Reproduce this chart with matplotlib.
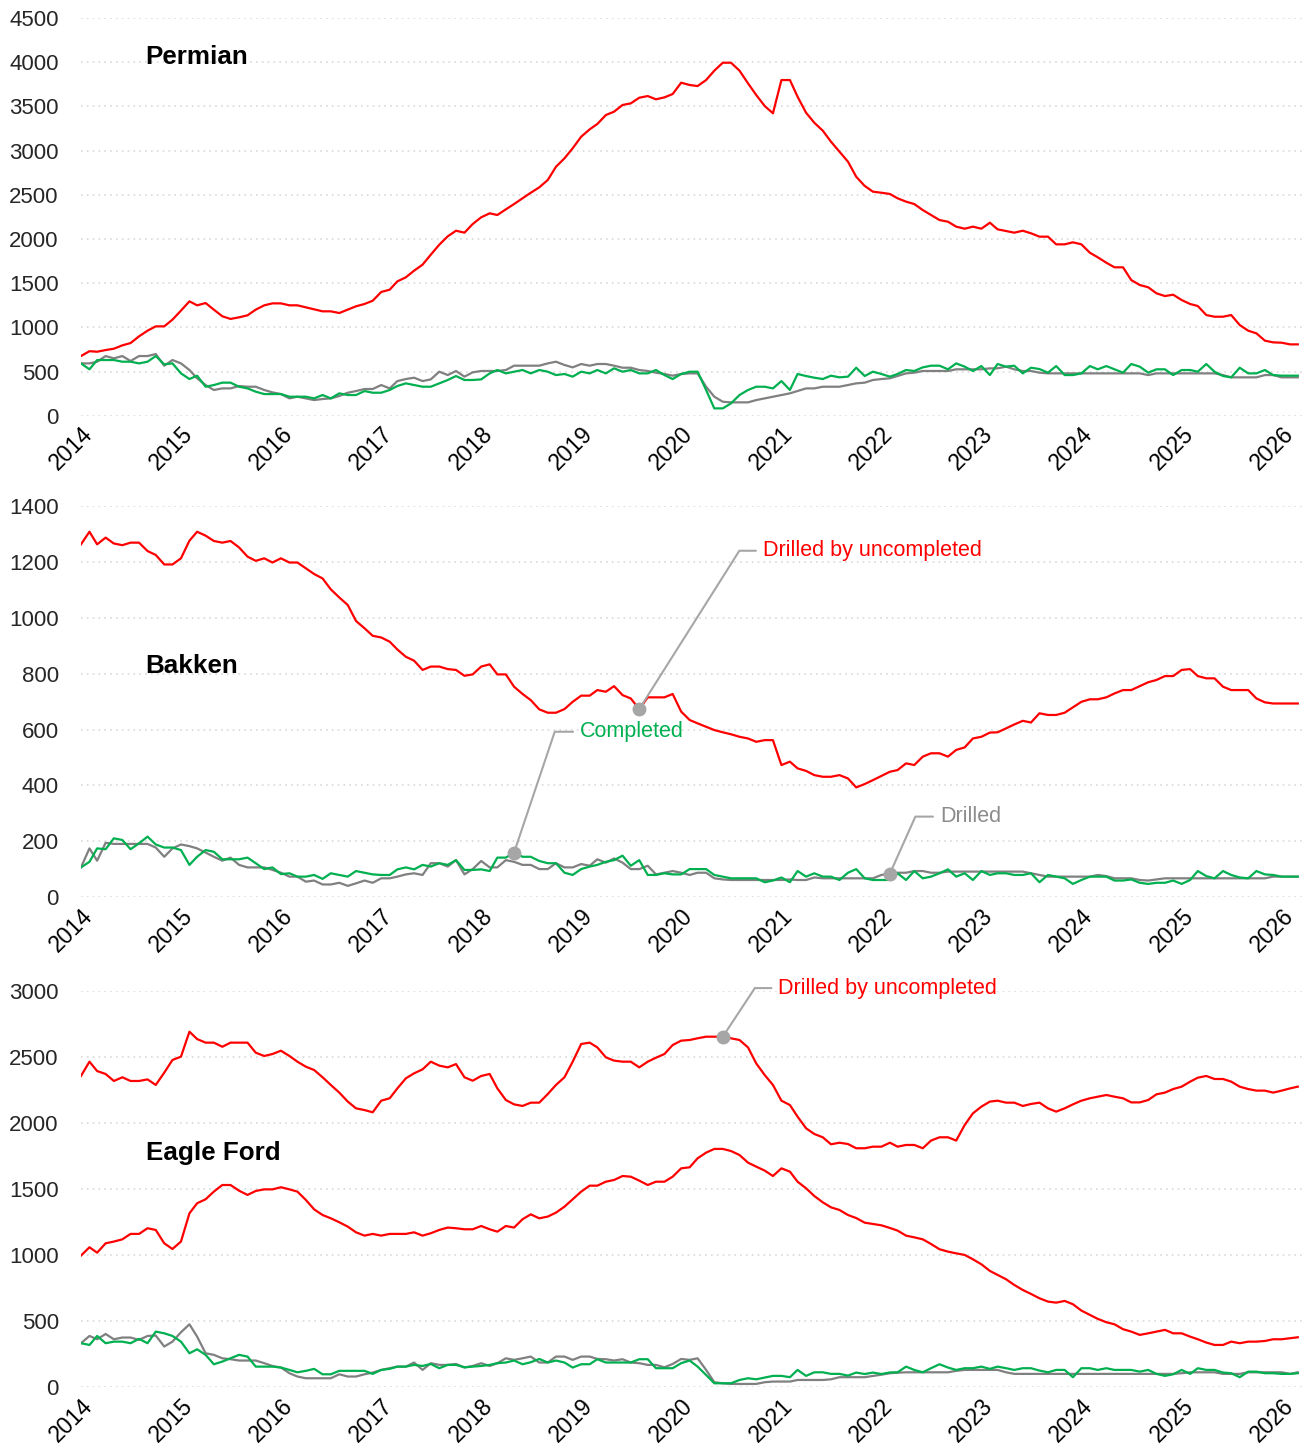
import numpy as np
import pandas as pd
import matplotlib
matplotlib.use("Agg")
import matplotlib.pyplot as plt
import matplotlib.dates as mdates

plt.rcParams['font.family'] = ['Liberation Sans', 'DejaVu Sans']

# monthly, Jan 2014 .. Mar 2026
dates = pd.date_range("2014-01-01", periods=147, freq="MS")

permian_duc = [
    675, 730, 724, 743, 758, 796, 822, 898, 962, 1011, 1011, 1087,
    1189, 1294, 1249, 1275, 1200, 1125, 1095, 1113, 1136, 1200, 1249, 1271,
    1271, 1249, 1249, 1226, 1204, 1181, 1181, 1162, 1200, 1238, 1264, 1301,
    1400, 1426, 1520, 1566, 1641, 1709, 1822, 1935, 2030, 2093, 2071, 2169,
    2245, 2290, 2271, 2335, 2395, 2460, 2523, 2584, 2667, 2817, 2912, 3026,
    3157, 3240, 3301, 3402, 3440, 3516, 3534, 3598, 3617, 3580, 3602, 3640,
    3768, 3742, 3730, 3798, 3904, 3994, 3994, 3904, 3761, 3629, 3504, 3422,
    3798, 3798, 3609, 3428, 3315, 3225, 3100, 2987, 2874, 2704, 2600, 2535,
    2523, 2509, 2460, 2422, 2395, 2327, 2271, 2214, 2195, 2139, 2116, 2139,
    2116, 2184, 2109, 2090, 2071, 2093, 2064, 2026, 2026, 1939, 1939, 1962,
    1939, 1844, 1792, 1731, 1679, 1679, 1535, 1479, 1453, 1385, 1354, 1369,
    1309, 1264, 1241, 1139, 1120, 1120, 1139, 1026, 962, 932, 849, 830,
    826, 807, 807]
permian_completed = [
    592, 525, 630, 630, 630, 611, 611, 592, 611, 675, 581, 592,
    479, 415, 453, 328, 347, 374, 374, 328, 309, 272, 245, 245,
    245, 215, 215, 215, 196, 234, 196, 253, 234, 234, 279, 260,
    260, 291, 336, 366, 347, 328, 328, 366, 404, 449, 404, 404,
    411, 479, 517, 479, 498, 517, 479, 517, 498, 460, 472, 442,
    498, 479, 517, 479, 536, 498, 517, 479, 479, 517, 460, 415,
    472, 498, 498, 291, 83, 83, 140, 234, 291, 328, 328, 309,
    392, 291, 472, 449, 430, 415, 453, 434, 442, 543, 449, 498,
    472, 442, 472, 517, 506, 547, 566, 566, 525, 592, 555, 506,
    562, 460, 585, 555, 566, 479, 543, 528, 487, 562, 460, 460,
    479, 562, 525, 562, 525, 487, 585, 555, 487, 525, 525, 460,
    517, 517, 498, 585, 498, 449, 434, 543, 479, 479, 517, 460,
    453, 453, 453]
permian_drilled = [
    592, 592, 611, 675, 649, 675, 619, 675, 675, 698, 566, 630,
    592, 517, 423, 347, 291, 309, 309, 336, 328, 328, 291, 264,
    245, 196, 215, 196, 177, 189, 196, 223, 260, 279, 302, 302,
    347, 309, 392, 415, 430, 392, 411, 498, 460, 506, 442, 491,
    506, 506, 506, 517, 566, 566, 566, 566, 592, 611, 574, 547,
    585, 566, 585, 585, 566, 543, 543, 517, 506, 487, 472, 453,
    472, 479, 479, 328, 215, 158, 151, 151, 151, 177, 196, 215,
    234, 253, 279, 309, 309, 328, 328, 328, 347, 366, 374, 404,
    415, 423, 449, 479, 487, 506, 506, 506, 506, 525, 525, 525,
    525, 536, 536, 555, 525, 506, 506, 487, 479, 479, 479, 479,
    479, 479, 479, 479, 479, 479, 479, 479, 460, 479, 479, 479,
    479, 479, 479, 479, 479, 460, 434, 434, 434, 434, 460, 460,
    434, 434, 434]

bakken_duc = [
    1262, 1307, 1262, 1286, 1265, 1259, 1268, 1268, 1238, 1224, 1190, 1190,
    1212, 1275, 1307, 1293, 1274, 1268, 1274, 1251, 1218, 1203, 1212, 1197,
    1212, 1197, 1197, 1176, 1156, 1140, 1101, 1072, 1045, 988, 962, 935,
    929, 914, 886, 860, 846, 813, 825, 825, 816, 813, 792, 797,
    825, 833, 797, 797, 753, 727, 705, 672, 660, 660, 673, 699,
    721, 721, 741, 735, 755, 723, 711, 673, 715, 715, 715, 727,
    664, 634, 622, 610, 598, 590, 583, 574, 568, 556, 562, 562,
    473, 485, 461, 452, 437, 431, 431, 437, 425, 393, 405, 419,
    434, 449, 455, 479, 473, 503, 515, 515, 503, 527, 536, 568,
    574, 589, 590, 604, 618, 631, 625, 658, 652, 652, 660, 679,
    699, 708, 708, 715, 729, 741, 741, 755, 769, 777, 791, 791,
    813, 816, 791, 783, 783, 753, 741, 741, 741, 711, 697, 693,
    693, 693, 693]
bakken_completed = [
    107, 127, 175, 172, 211, 205, 172, 193, 217, 189, 178, 178,
    169, 116, 145, 169, 163, 136, 136, 136, 142, 122, 101, 107,
    83, 86, 74, 74, 80, 66, 86, 80, 74, 94, 88, 82,
    80, 80, 100, 107, 100, 116, 110, 122, 116, 133, 98, 98,
    100, 94, 142, 142, 160, 145, 145, 130, 122, 122, 88, 80,
    101, 110, 116, 127, 133, 149, 113, 133, 80, 80, 86, 82,
    82, 101, 101, 101, 80, 74, 68, 68, 68, 68, 54, 60,
    71, 54, 94, 74, 86, 74, 74, 62, 88, 101, 68, 62,
    62, 62, 86, 62, 94, 68, 74, 86, 100, 74, 86, 62,
    94, 80, 86, 86, 80, 80, 86, 54, 80, 74, 68, 48,
    62, 74, 74, 74, 60, 60, 64, 52, 48, 52, 52, 60,
    48, 62, 94, 76, 68, 94, 80, 71, 68, 94, 82, 80,
    74, 74, 74]
bakken_drilled = [
    107, 175, 131, 195, 191, 191, 191, 191, 191, 178, 145, 175,
    189, 183, 175, 160, 145, 131, 142, 116, 107, 107, 107, 98,
    88, 74, 74, 56, 60, 46, 46, 52, 41, 50, 60, 52,
    68, 68, 74, 82, 86, 80, 122, 122, 110, 133, 82, 101,
    130, 107, 107, 133, 127, 116, 116, 101, 101, 122, 107, 107,
    119, 113, 136, 124, 139, 124, 101, 101, 113, 82, 88, 94,
    88, 80, 88, 88, 68, 64, 62, 62, 62, 62, 62, 62,
    62, 64, 62, 62, 71, 68, 68, 68, 68, 68, 68, 68,
    80, 85, 88, 88, 94, 94, 88, 88, 92, 92, 92, 92,
    92, 92, 92, 92, 92, 92, 86, 80, 74, 74, 74, 74,
    74, 74, 80, 76, 68, 68, 68, 62, 60, 64, 68, 68,
    68, 68, 68, 68, 68, 68, 68, 68, 68, 68, 68, 74,
    74, 74, 74]

eagle_duc_a = [
    2355, 2463, 2392, 2370, 2317, 2345, 2317, 2317, 2329, 2287, 2380, 2476,
    2501, 2690, 2634, 2607, 2607, 2576, 2607, 2607, 2607, 2531, 2506, 2521,
    2546, 2506, 2463, 2425, 2400, 2345, 2287, 2229, 2161, 2110, 2097, 2080,
    2168, 2186, 2261, 2337, 2375, 2405, 2463, 2433, 2420, 2445, 2345, 2319,
    2355, 2370, 2261, 2173, 2140, 2128, 2153, 2153, 2218, 2287, 2345, 2463,
    2597, 2607, 2571, 2496, 2471, 2463, 2463, 2420, 2463, 2493, 2521, 2589,
    2622, 2627, 2640, 2652, 2652, 2652, 2640, 2627, 2571, 2450, 2362, 2287,
    2168, 2135, 2047, 1959, 1916, 1891, 1838, 1850, 1840, 1808, 1808, 1820,
    1820, 1850, 1820, 1833, 1833, 1808, 1866, 1891, 1891, 1866, 1984, 2072,
    2123, 2161, 2168, 2153, 2153, 2128, 2143, 2153, 2110, 2085, 2110, 2140,
    2168, 2186, 2198, 2211, 2198, 2186, 2155, 2155, 2173, 2216, 2229, 2256,
    2274, 2312, 2342, 2355, 2332, 2332, 2312, 2274, 2256, 2244, 2244, 2229,
    2244, 2261, 2274]
eagle_duc_b = [
    996, 1059, 1018, 1089, 1102, 1119, 1160, 1160, 1203, 1190, 1089, 1046,
    1102, 1316, 1392, 1422, 1480, 1530, 1530, 1487, 1455, 1485, 1497, 1497,
    1513, 1497, 1480, 1417, 1346, 1303, 1278, 1248, 1215, 1172, 1147, 1160,
    1147, 1160, 1160, 1160, 1172, 1147, 1165, 1190, 1208, 1203, 1195, 1195,
    1220, 1195, 1177, 1220, 1208, 1271, 1308, 1278, 1291, 1321, 1366, 1422,
    1480, 1525, 1525, 1555, 1568, 1598, 1593, 1563, 1530, 1555, 1555, 1593,
    1656, 1664, 1732, 1775, 1803, 1803, 1787, 1757, 1699, 1669, 1639, 1598,
    1656, 1631, 1555, 1505, 1447, 1399, 1361, 1341, 1303, 1280, 1245, 1235,
    1225, 1205, 1185, 1147, 1134, 1119, 1084, 1044, 1026, 1013, 1001, 968,
    930, 880, 850, 817, 774, 736, 706, 673, 648, 640, 653, 628,
    580, 547, 517, 492, 476, 439, 421, 396, 408, 421, 434, 408,
    408, 383, 363, 338, 320, 320, 345, 333, 345, 345, 350, 363,
    363, 371, 378]
eagle_completed = [
    333, 320, 388, 333, 345, 345, 333, 366, 333, 421, 408, 388,
    345, 257, 287, 245, 174, 194, 219, 245, 232, 156, 156, 156,
    149, 131, 113, 124, 139, 98, 98, 124, 124, 124, 124, 101,
    131, 139, 156, 156, 169, 161, 176, 144, 169, 169, 151, 156,
    161, 169, 182, 187, 202, 174, 189, 214, 187, 202, 187, 149,
    174, 174, 212, 187, 187, 187, 187, 212, 212, 144, 144, 144,
    182, 202, 156, 93, 30, 30, 30, 55, 68, 60, 73, 86,
    86, 76, 131, 86, 113, 113, 101, 101, 88, 111, 100, 111,
    100, 112, 113, 156, 131, 113, 144, 174, 149, 131, 144, 144,
    156, 139, 156, 144, 131, 144, 144, 126, 113, 131, 131, 76,
    144, 144, 131, 144, 131, 131, 131, 118, 131, 101, 86, 98,
    131, 101, 144, 131, 131, 111, 106, 76, 118, 118, 106, 106,
    101, 101, 106]
eagle_drilled = [
    333, 388, 363, 403, 363, 376, 376, 358, 388, 391, 308, 345,
    416, 476, 383, 257, 245, 219, 212, 202, 202, 202, 182, 161,
    149, 106, 81, 68, 68, 68, 68, 98, 81, 81, 98, 111,
    131, 144, 156, 156, 187, 131, 182, 169, 169, 176, 149, 161,
    182, 161, 182, 219, 207, 219, 232, 187, 187, 232, 232, 207,
    232, 232, 214, 212, 202, 212, 187, 182, 169, 169, 151, 176,
    214, 207, 219, 131, 38, 30, 25, 25, 25, 25, 38, 43,
    43, 43, 55, 55, 55, 55, 60, 76, 76, 76, 76, 85,
    95, 106, 110, 113, 113, 113, 113, 113, 113, 124, 131, 131,
    131, 131, 131, 113, 101, 101, 101, 101, 101, 101, 101, 101,
    101, 101, 101, 101, 101, 101, 101, 101, 101, 101, 101, 101,
    106, 113, 113, 113, 113, 101, 101, 101, 113, 113, 113, 113,
    113, 101, 113]

RED = '#FF0000'
GREEN = '#00B050'
GREY = '#808080'
LEADER = '#A6A6A6'

fig = plt.figure(figsize=(13.06, 14.52), dpi=100)

boxes = [
    [0.062, 0.7137, 0.9357, 0.2739],
    [0.062, 0.3820, 0.9357, 0.2697],
    [0.062, 0.0446, 0.9357, 0.2731],
]
panels = [
    ("Permian", [permian_duc], permian_drilled, permian_completed, 4500, 500, 0.884),
    ("Bakken", [bakken_duc], bakken_drilled, bakken_completed, 1400, 200, 0.5735),
    ("Eagle Ford", [eagle_duc_a, eagle_duc_b], eagle_drilled, eagle_completed, 3000, 500, 0.573),
]

axes = []
for box, (name, ducs, drilled, completed, ymax, ystep, ty) in zip(boxes, panels):
    ax = fig.add_axes(box)
    for d in ducs:
        ax.plot(dates, d, color=RED, lw=1.6, zorder=3)
    ax.plot(dates, drilled, color=GREY, lw=1.6, zorder=3)
    ax.plot(dates, completed, color=GREEN, lw=1.6, zorder=4)
    ax.set_ylim(0, ymax)
    ax.set_yticks(np.arange(0, ymax + 1, ystep))
    ax.set_xlim(pd.Timestamp("2014-01-01"), pd.Timestamp("2026-03-20"))
    ax.xaxis.set_major_locator(mdates.YearLocator())
    ax.xaxis.set_major_formatter(mdates.DateFormatter('%Y'))
    ax.grid(axis='y', color='#d9d9d9', linestyle=(0, (1, 2.5)), lw=1.2)
    ax.set_axisbelow(True)
    for s in ax.spines.values():
        s.set_visible(False)
    ax.tick_params(axis='y', length=0, pad=16, labelsize=16, labelcolor='#262626')
    ax.tick_params(axis='x', length=0, pad=5, labelsize=16.5, labelcolor='#000000')
    for lab in ax.get_xticklabels():
        lab.set_rotation(45)
        lab.set_ha('right')
        lab.set_va('top')
        lab.set_rotation_mode('anchor')
    ax.text(0.053, ty, name, transform=ax.transAxes, fontsize=18.7,
            fontweight='bold', va='baseline', ha='left', zorder=6)
    axes.append(ax)

ax_b = axes[1]
ax_e = axes[2]


def leader(ax, idx, series, label, color, dx, dy, angle):
    ax.plot(dates[idx], series[idx], 'o', color=LEADER, ms=9, zorder=7)
    ax.annotate(label, xy=(dates[idx], series[idx]), xytext=(dx, dy),
                textcoords='offset points', ha='left', va='center',
                fontsize=15.5, color=color, zorder=8,
                arrowprops=dict(arrowstyle='-', color=LEADER, lw=1.5,
                                shrinkA=3, shrinkB=0,
                                connectionstyle=f"angle,angleA=180,angleB={angle},rad=0"))


leader(ax_b, 67, bakken_duc, "Drilled by uncompleted", RED, 89, 114, 57.7)
leader(ax_b, 52, bakken_completed, "Completed", GREEN, 47.5, 87, 71.4)
leader(ax_b, 97, bakken_drilled, "Drilled", '#8c8c8c', 36, 41, 65.9)
leader(ax_e, 77, eagle_duc_a, "Drilled by uncompleted", RED, 40, 35, 56.6)

fig.savefig("out.png", dpi=100)
